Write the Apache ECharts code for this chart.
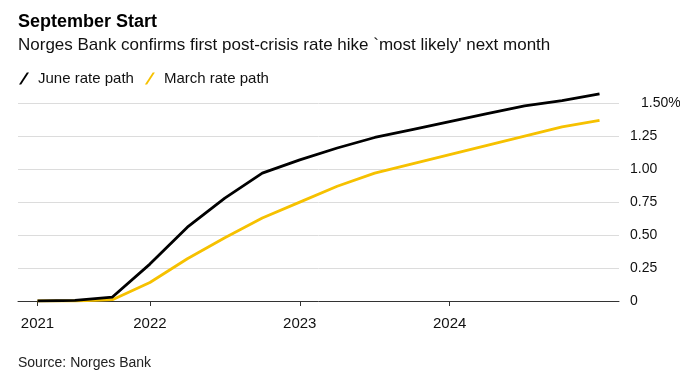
<!DOCTYPE html>
<html>
<head>
<meta charset="utf-8">
<script src="https://cdn.jsdelivr.net/npm/echarts@6/dist/echarts.min.js"></script>
<style>
  html, body { margin: 0; padding: 0; background: #fff; }
  #main { width: 680px; height: 375px; }
</style>
</head>
<body>
<div id="main"></div>
<script>
// quarterly points, as decimal years (Q2 2021 .. Q1 2025)
var quarters = [2021.25, 2021.5, 2021.75, 2022.0, 2022.25, 2022.5, 2022.75, 2023.0,
                2023.25, 2023.5, 2023.75, 2024.0, 2024.25, 2024.5, 2024.75, 2025.0];
var juneRate = [0, 0.005, 0.03, 0.28, 0.56, 0.78, 0.97, 1.07, 1.16, 1.24, 1.30, 1.36, 1.42, 1.48, 1.52, 1.57];
var marchRate = [0, 0, 0.01, 0.14, 0.32, 0.48, 0.63, 0.75, 0.87, 0.97, 1.04, 1.11, 1.18, 1.25, 1.32, 1.37];
var yearTicks = [2021.25, 2022, 2023, 2024];
var yearLabels = ['2021', '2022', '2023', '2024'];

var FONT = 'Liberation Sans';

function pairs(xs, ys) {
  return xs.map(function (x, i) { return [x, ys[i]]; });
}

var myChart = echarts.init(document.getElementById('main'));
var option = {
  animation: false,
  textStyle: { fontFamily: FONT },
  title: [
    {
      text: 'September Start',
      left: 18, top: 13, padding: 0,
      textStyle: { fontFamily: FONT, fontSize: 18, fontWeight: 'bold', color: '#000' }
    },
    {
      text: "Norges Bank confirms first post-crisis rate hike `most likely' next month",
      left: 18, top: 37, padding: 0,
      textStyle: { fontFamily: FONT, fontSize: 17, fontWeight: 'normal', color: '#111' }
    },
    {
      text: 'Source: Norges Bank',
      left: 18, top: 356, padding: 0,
      textStyle: { fontFamily: FONT, fontSize: 14, fontWeight: 'normal', color: '#222' }
    }
  ],
  legend: {
    left: 19, top: 71, padding: 0,
    icon: 'path://M0,12 L2.2,12 L10,0 L7.8,0 Z',
    itemWidth: 10, itemHeight: 12,
    itemGap: 11,
    textStyle: { fontFamily: FONT, fontSize: 15, color: '#111', padding: [0, 0, 0, 4] },
    data: ['June rate path', 'March rate path']
  },
  grid: { left: 18, right: 61, top: 90, bottom: 74, outerBoundsMode: 'none' },
  xAxis: {
    type: 'value',
    min: 2021.12, max: 2025.13,
    axisLine: { show: true, lineStyle: { color: '#333', width: 1 } },
    axisTick: { show: true, length: 5, customValues: yearTicks, lineStyle: { color: '#333' } },
    axisLabel: {
      customValues: yearTicks,
      margin: 15,
      fontFamily: FONT, fontSize: 15, color: '#111',
      formatter: function (v) {
        var i = yearTicks.indexOf(v);
        return i >= 0 ? yearLabels[i] : '';
      }
    },
    splitLine: { show: false }
  },
  yAxis: {
    type: 'value',
    position: 'right',
    min: 0, max: 1.6, interval: 0.25,
    axisLine: { show: false },
    axisTick: { show: false },
    splitLine: { show: true, showMaxLine: false, lineStyle: { color: '#dcdcdc', width: 1 } },
    axisLabel: {
      margin: 11,
      showMaxLabel: false,
      fontFamily: FONT, fontSize: 14, color: '#111',
      formatter: function (v) {
        if (v === 0) return '0';
        if (v === 1.5) return '{top|1.50%}';
        return v.toFixed(2);
      },
      rich: { top: { fontFamily: FONT, fontSize: 14, color: '#111', padding: [0, 0, 0, 11] } }
    }
  },
  series: [
    {
      name: 'June rate path',
      type: 'line',
      data: pairs(quarters, juneRate),
      showSymbol: false,
      z: 3,
      itemStyle: { color: '#000' },
      lineStyle: { color: '#000', width: 2.8 }
    },
    {
      name: 'March rate path',
      type: 'line',
      data: pairs(quarters, marchRate),
      showSymbol: false,
      z: 2,
      itemStyle: { color: '#f6c100' },
      lineStyle: { color: '#f6c100', width: 2.8 }
    }
  ]
};
myChart.setOption(option);
</script>
</body>
</html>
